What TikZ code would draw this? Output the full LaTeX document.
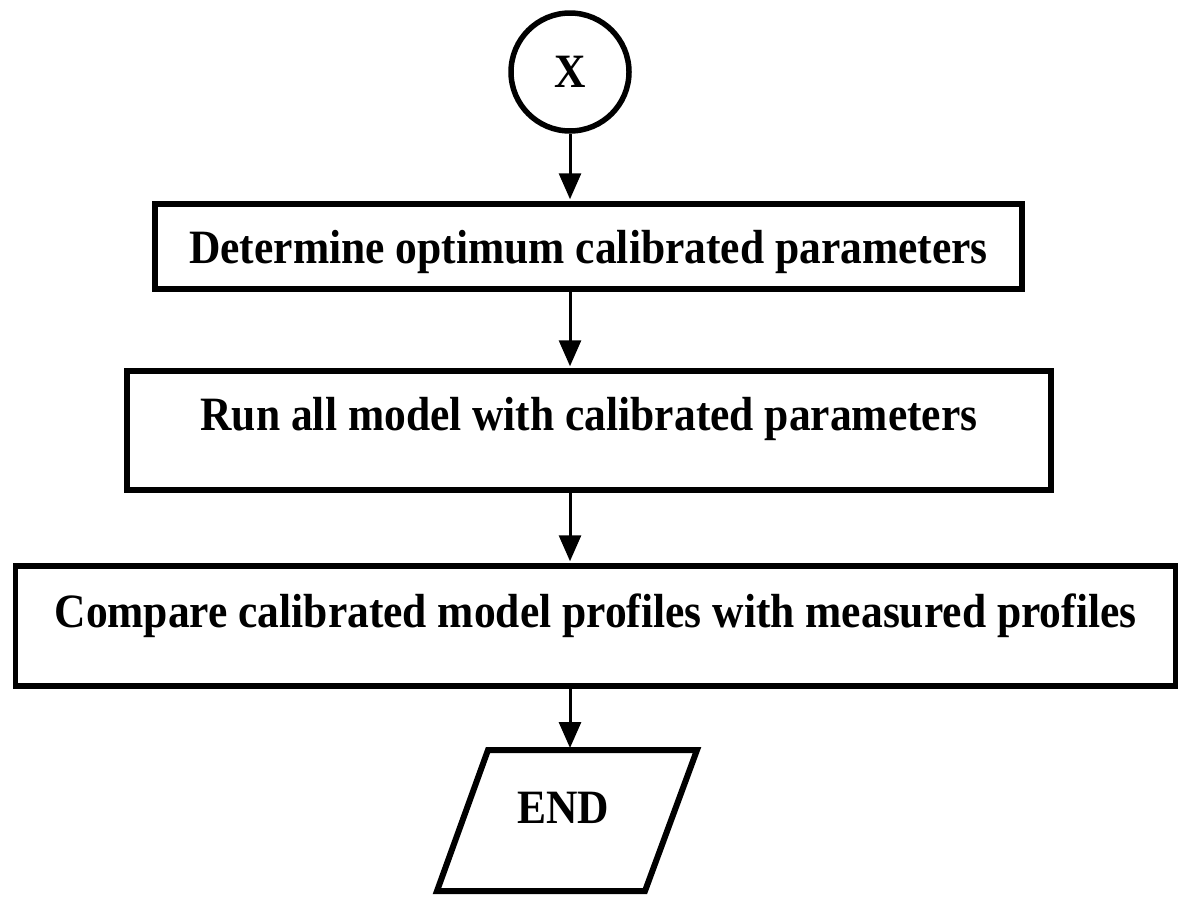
\documentclass[tikz,border=0pt]{standalone}
\usepackage{fontspec}
\setmainfont{Liberation Serif}
\usetikzlibrary{arrows.meta}
\newcommand{\tallt}[1]{\scalebox{1}[1.1]{#1}}
\tikzset{
  lbl/.style={font=\fontsize{43.5}{50}\selectfont\bfseries},
  procbox/.style={draw, line width=5.5pt, rectangle, inner sep=0pt, lbl},
  conn/.style={line width=3pt, -{Triangle[length=26pt,width=22pt]}, shorten >=2pt},
}
\begin{document}
\begin{tikzpicture}[x=1pt,y=-1pt]
\useasboundingbox (0,0) rectangle (1183,897);
\node[draw, circle, line width=5.5pt, minimum size=118pt, inner sep=0pt, lbl] (c) at (570,72) {\tallt{X}};
\node[procbox, minimum width=867pt, minimum height=85pt, text height=59pt, text depth=26pt] (b1) at (588.5,246.5) {\tallt{Determine optimum calibrated parameters}};
\node[procbox, minimum width=924pt, minimum height=119pt, text height=59pt, text depth=60pt] (b2) at (589,430.5) {\tallt{Run all model with calibrated parameters}};
\node[procbox, minimum width=1160pt, minimum height=120pt, text height=61pt, text depth=59pt] (b3) at (595.5,626) {\tallt{Compare calibrated model profiles with measured profiles}};
\coordinate (tl) at (488,750);
\coordinate (tr) at (697,750);
\coordinate (br) at (645,891);
\coordinate (bl) at (437,891);
\draw[line width=6pt, line join=miter] (tl) -- (tr) -- (br) -- (bl) -- cycle;
\node[lbl, anchor=base] (e) at (563,823) {\tallt{END}};
\coordinate (et) at (570,750);
\draw[conn] (c.south) -- (c.south |- b1.north);
\draw[conn] (b1.south -| c.south) -- (c.south |- b2.north);
\draw[conn] (b2.south -| c.south) -- (c.south |- b3.north);
\draw[conn] (b3.south -| et) -- (et);
\end{tikzpicture}
\end{document}
